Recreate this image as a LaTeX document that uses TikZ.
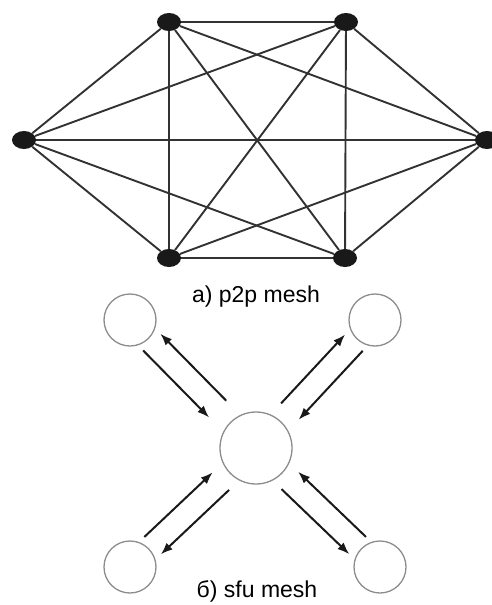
\documentclass[tikz,border=0pt]{standalone}
\usepackage{fontspec}
\setmainfont{Liberation Sans}
\usepackage{xcolor}
\usetikzlibrary{arrows.meta,shapes.geometric,calc}
\definecolor{edgegray}{RGB}{50,50,50}
\definecolor{ringgray}{RGB}{140,140,140}

\begin{document}
\begin{tikzpicture}[
      x=1pt, y=-1pt,
      peer/.style={ellipse, fill=black!90, draw=none, minimum width=24pt, minimum height=18pt, inner sep=0pt},
      client/.style={circle, draw=ringgray, line width=1.3pt, minimum size=52pt, inner sep=0pt},
      srvbox/.style={circle, draw=ringgray, line width=1.3pt, minimum size=72pt, inner sep=0pt},
      link/.style={line width=1.9pt, draw=edgegray},
      arr/.style={-{Latex[length=12pt,width=9pt]}, line width=2pt, draw=black!90},
      caption/.style={anchor=base, font=\fontsize{23}{27}\selectfont}
    ]
      \useasboundingbox (0,0) rectangle (492,605);
      % a) full mesh
      \node[peer] (tl) at (169,22) {};
      \node[peer] (tr) at (346,22) {};
      \node[peer] (l)  at (24,140) {};
      \node[peer] (r)  at (487,140) {};
      \node[peer] (bl) at (169,258) {};
      \node[peer] (br) at (345,258) {};
      \foreach \a/\b in {tl/tr, tl/l, tl/r, tl/bl, tl/br, tr/l, tr/r, tr/bl, tr/br,
                         l/r, l/bl, l/br, r/bl, r/br, bl/br}
        \draw[link] (\a) -- (\b);
      \node[caption] (capa) at (256,302) {a) p2p mesh};
      % b) sfu
      \node[srvbox] (srv) at (256,448) {};
      \node[client] (ctl) at (130,320) {};
      \node[client] (ctr) at (375,320) {};
      \node[client] (cbl) at (130,567) {};
      \node[client] (cbr) at (380,567) {};
      \foreach \c/\s in {ctl/-1, ctr/1, cbl/1, cbr/-1}{
        \draw[arr] ($(\c)!31pt!(srv)!12pt!\s*90:(srv)$) -- ($(\c)!125pt!(srv)!12pt!\s*90:(srv)$);
        \draw[arr] ($(\c)!125pt!(srv)!12pt!-\s*90:(srv)$) -- ($(\c)!31pt!(srv)!12pt!-\s*90:(srv)$);
      }
      \node[caption] (capb) at (257,597) {б) sfu mesh};
    \end{tikzpicture}
\end{document}
